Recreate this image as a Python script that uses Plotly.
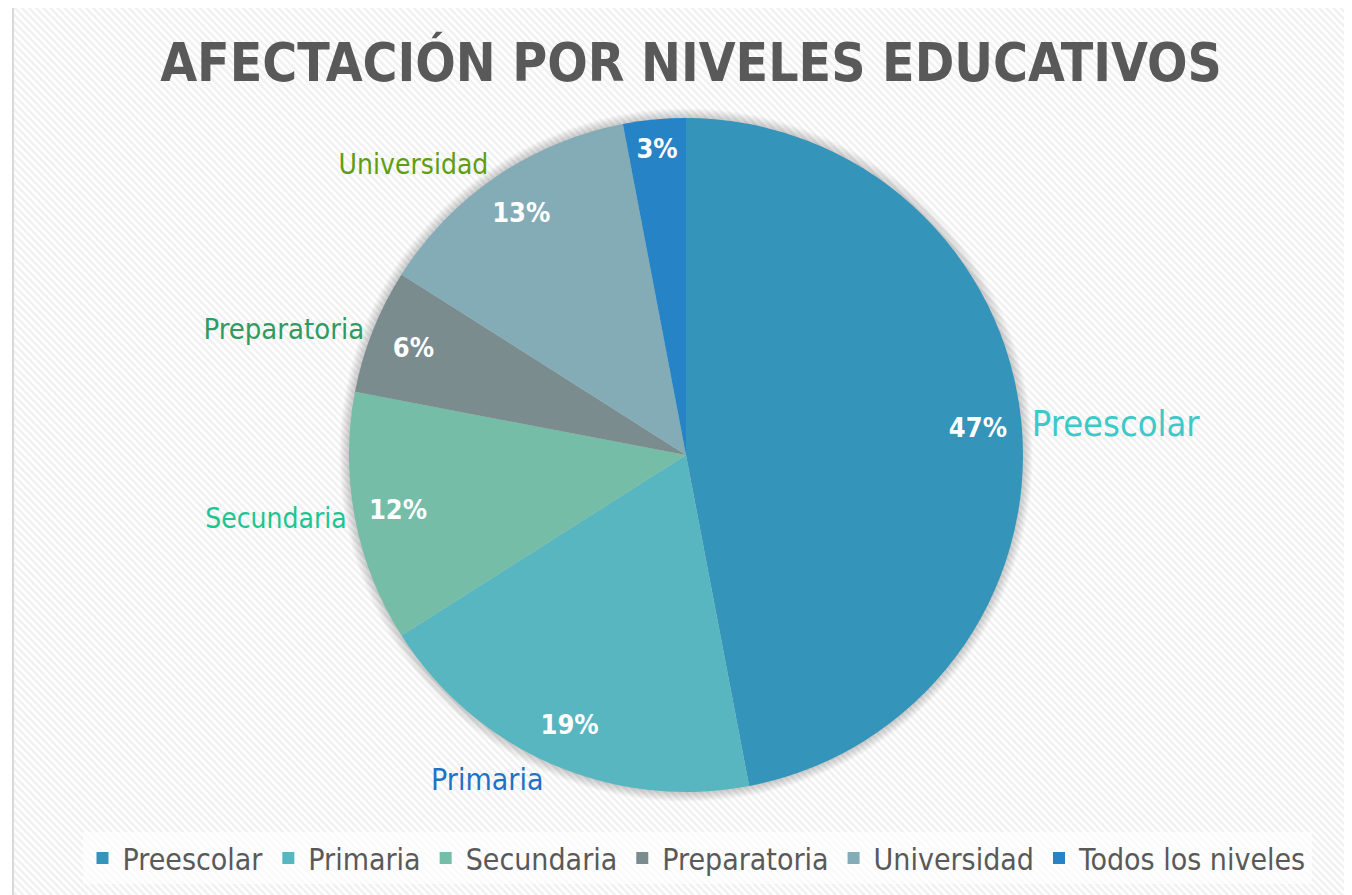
import base64
import plotly.graph_objects as go

# datos del grafico
niveles = ["Preescolar", "Primaria", "Secundaria", "Preparatoria", "Universidad", "Todos los niveles"]
porcentajes = [47, 19, 12, 6, 13, 3]
etiquetas_fuera = ["Preescolar", "Primaria", "Secundaria", "Preparatoria", "Universidad", ""]

colores = ["#3494BA", "#58B6C0", "#75BDA7", "#7A8C8E", "#84ACB6", "#2683C6"]
colores_etiqueta = ["#3CC9C9", "#1F72C4", "#1CC592", "#2F9A62", "#5F9E10", "#2683C6"]
tam_etiqueta = [36, 30, 28, 29, 28, 28]

FUENTE = "DejaVu Sans Condensed, DejaVu Sans, sans-serif"
# la pagina tiene 8px de margen en el body
OFF = 8
W, H = 1352 - OFF, 895 - OFF


def px(x):
    return (x - OFF) / W


def py(y):
    return 1 - (y - OFF) / H


# fondo rayado (patron diagonal)
svg = (
    '<svg xmlns="http://www.w3.org/2000/svg" width="1400" height="900">'
    '<defs><pattern id="p" width="5" height="5" patternUnits="userSpaceOnUse" '
    'patternTransform="rotate(-45)"><rect width="5" height="5" fill="#ffffff"/>'
    '<rect width="2.5" height="5" fill="#f1f1f1"/></pattern></defs>'
    '<rect width="1400" height="900" fill="url(#p)"/></svg>'
)
fondo = "data:image/svg+xml;base64," + base64.b64encode(svg.encode()).decode()

cx, cy, r = 686, 455, 337
dom_x = [px(cx - r), px(cx + r)]
dom_y = [py(cy + r), py(cy - r)]

# sombra suave alrededor del pastel
sombra = []
for k in range(1, 9):
    rr = r + k * 1.2
    sombra.append(dict(type="circle", xref="paper", yref="paper",
                       x0=px(cx - rr), x1=px(cx + rr), y0=py(cy + rr), y1=py(cy - rr),
                       fillcolor="rgba(0,0,0,0.022)", line=dict(width=0), layer="below"))

fig = go.Figure()

# rebanadas
fig.add_trace(go.Pie(
    labels=niveles, values=porcentajes, sort=False, direction="clockwise",
    marker=dict(colors=colores, line=dict(width=0)),
    textinfo="none", domain=dict(x=dom_x, y=dom_y), hoverinfo="label+percent",
))

# porcentajes cerca del borde (anillo transparente)
fig.add_trace(go.Pie(
    labels=niveles, values=porcentajes, sort=False, direction="clockwise", hole=0.74,
    marker=dict(colors=["rgba(0,0,0,0)"] * len(niveles), line=dict(width=0)),
    textinfo="percent", textposition="inside", insidetextorientation="horizontal",
    textfont=dict(family=FUENTE, size=27, color="white", weight="bold"),
    domain=dict(x=dom_x, y=dom_y), showlegend=False, hoverinfo="skip",
))

# nombres fuera del pastel
fig.add_trace(go.Pie(
    labels=niveles, values=porcentajes, sort=False, direction="clockwise",
    marker=dict(colors=["rgba(0,0,0,0)"] * len(niveles), line=dict(width=0)),
    text=etiquetas_fuera, textinfo="text", textposition="outside",
    outsidetextfont=dict(family=FUENTE, size=tam_etiqueta, color=colores_etiqueta),
    domain=dict(x=dom_x, y=dom_y), showlegend=False, hoverinfo="skip",
))

fig.update_layout(
    width=W, height=H, autosize=False,
    margin=dict(l=0, r=0, t=0, b=0),
    paper_bgcolor="white",
    title=dict(text="AFECTACIÓN POR NIVELES EDUCATIVOS", x=px(691), xanchor="center",
               y=py(62), yanchor="middle",
               font=dict(family=FUENTE, size=53, color="#595959", weight="bold")),
    legend=dict(orientation="h", x=px(697), xanchor="center", y=py(858), yanchor="middle",
                font=dict(family=FUENTE, size=30, color="#595959"),
                bgcolor="rgba(255,255,255,0.65)", itemwidth=30, traceorder="normal"),
    images=[dict(source=fondo, xref="paper", yref="paper", x=px(13), y=1.0,
                 sizex=1.05, sizey=1.05, sizing="stretch", layer="below",
                 xanchor="left", yanchor="top")],
    shapes=sombra + [dict(type="rect", xref="paper", yref="paper", x0=px(13), x1=1.05,
                          y0=-0.05, y1=py(7), line=dict(color="#d9d9d9", width=2),
                          layer="below")],
)

fig.write_html("out.html")
